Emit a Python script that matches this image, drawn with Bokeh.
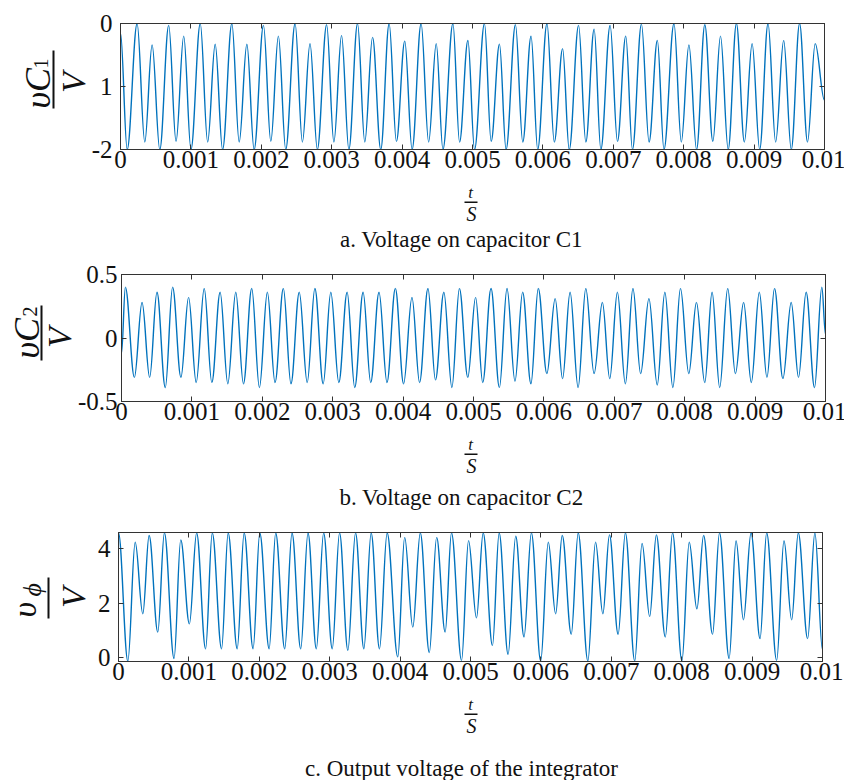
import numpy as np
from bokeh.plotting import figure
from bokeh.models import LinearAxis, FixedTicker, Range1d, ColumnDataSource, Label, BoxAnnotation
from bokeh.layouts import column, row
from bokeh.embed import file_html
from bokeh.resources import INLINE

# ---------------- data ----------------
x_ticks = [0, 0.001, 0.002, 0.003, 0.004, 0.005, 0.006, 0.007, 0.008, 0.009, 0.01]
x_tick_labels = ["0", "0.001", "0.002", "0.003", "0.004", "0.005", "0.006", "0.007", "0.008", "0.009", "0.01"]

# a. voltage on C1 : extrema, times in ms
a_start = [0.0, -0.15]
a_end = [10.0, -1.22]
a_peak_t = [0.236, 0.449, 0.685, 0.898, 1.133, 1.345, 1.582, 1.795, 2.031, 2.243, 2.48, 2.692, 2.928, 3.14,
            3.367, 3.58, 3.816, 4.038, 4.27, 4.485, 4.722, 4.935, 5.17, 5.383, 5.61, 5.832, 6.058, 6.28,
            6.507, 6.728, 6.955, 7.177, 7.4, 7.626, 7.862, 8.074, 8.3, 8.523, 8.749, 8.972, 9.198, 9.42,
            9.646, 9.868]
a_peak_v = [0.0, -0.34, -0.03, -0.2, 0.0, -0.33, 0.0, -0.33, -0.03, -0.2, 0.0, -0.32, -0.02, -0.19,
            0.0, -0.22, 0.0, -0.28, 0.0, -0.32, 0.0, -0.27, 0.0, -0.33, -0.02, -0.2, 0.0, -0.4,
            -0.03, -0.09, -0.03, -0.2, -0.01, -0.27, 0.0, -0.34, -0.02, -0.2, 0.0, -0.32, 0.0, -0.27,
            0.0, -0.32]
a_trough_t = [0.095, 0.345, 0.558, 0.789, 1.001, 1.238, 1.45, 1.686, 1.898, 2.135, 2.347, 2.584, 2.796,
              3.031, 3.244, 3.47, 3.697, 3.919, 4.142, 4.377, 4.58, 4.816, 5.029, 5.265, 5.477, 5.714,
              5.926, 6.162, 6.374, 6.61, 6.823, 7.059, 7.272, 7.508, 7.72, 7.966, 8.183, 8.414, 8.632,
              8.862, 9.079, 9.306, 9.528, 9.759]
a_trough_v = [-2.0, -1.88, -2.0, -1.87, -2.0, -1.88, -2.0, -1.88, -2.0, -1.87, -2.0, -1.88, -2.0,
              -1.88, -2.0, -1.88, -2.0, -1.87, -2.0, -1.88, -2.0, -1.88, -2.0, -1.87, -2.0, -1.88,
              -2.0, -1.88, -2.0, -1.88, -2.0, -1.87, -2.0, -1.88, -2.0, -1.88, -2.0, -1.87, -2.0,
              -1.88, -2.0, -1.88, -2.0, -1.88]

# b. voltage on C2
b_start = [0.0, -0.12]
b_end = [10.0, 0.03]
b_peak_t = [0.055, 0.292, 0.504, 0.726, 0.953, 1.175, 1.401, 1.623, 1.85, 2.072, 2.299, 2.525, 2.747,
            2.973, 3.205, 3.432, 3.658, 3.89, 4.126, 4.353, 4.579, 4.80, 5.03, 5.249, 5.476, 5.698,
            5.92, 6.16, 6.372, 6.595, 6.831, 7.044, 7.265, 7.492, 7.718, 7.94, 8.167, 8.389, 8.611,
            8.837, 9.06, 9.276, 9.513, 9.725, 9.948]
b_peak_v = [0.40, 0.28, 0.36, 0.40, 0.32, 0.39, 0.36, 0.36, 0.39, 0.36,
            0.39, 0.36, 0.39, 0.36, 0.36, 0.36, 0.36, 0.39, 0.32, 0.39,
            0.36, 0.39, 0.32, 0.39, 0.39, 0.36, 0.39, 0.31, 0.36, 0.39,
            0.28, 0.36, 0.39, 0.31, 0.36, 0.39, 0.28, 0.36, 0.39, 0.28,
            0.36, 0.39, 0.28, 0.36, 0.40]
b_trough_t = [0.183, 0.4, 0.622, 0.844, 1.061, 1.283, 1.51, 1.732, 1.959, 2.181, 2.407, 2.638, 2.865,
              3.087, 3.313, 3.54, 3.771, 4.007, 4.234, 4.46, 4.693, 4.919, 5.131, 5.368, 5.589, 5.816,
              6.042, 6.265, 6.486, 6.713, 6.935, 7.157, 7.374, 7.61, 7.832, 8.058, 8.285, 8.497, 8.72,
              8.946, 9.168, 9.395, 9.617, 9.844]
b_trough_v = [-0.31, -0.31, -0.39, -0.31, -0.35, -0.35, -0.36, -0.36, -0.39, -0.35,
              -0.36, -0.35, -0.36, -0.35, -0.39, -0.35, -0.35, -0.36, -0.35, -0.33,
              -0.39, -0.31, -0.35, -0.39, -0.34, -0.36, -0.28, -0.32, -0.39, -0.28,
              -0.32, -0.36, -0.28, -0.37, -0.39, -0.28, -0.35, -0.39, -0.28, -0.35,
              -0.31, -0.32, -0.31, -0.39]

# c. output voltage of the integrator
c_start = [0.0, 4.58]
c_end = [10.0, 0.3]
c_peak_t = [0.237, 0.435, 0.652, 0.884, 1.11, 1.332, 1.558, 1.785, 2.007, 2.233, 2.465, 2.692, 2.914,
            3.14, 3.367, 3.589, 3.816, 4.065, 4.287, 4.519, 4.73, 4.972, 5.18, 5.407, 5.642, 5.865,
            6.105, 6.303, 6.53, 6.776, 6.974, 7.2, 7.437, 7.64, 7.87, 8.107, 8.311, 8.537, 8.772,
            8.985, 9.207, 9.453, 9.656, 9.892]
c_peak_v = [4.24, 4.49, 4.58, 4.33, 4.58,
            4.58, 4.58, 4.58, 4.58, 4.58, 4.58, 4.58, 4.58, 4.58, 4.58, 4.58, 4.58,
            4.42, 4.58, 4.42, 4.58, 4.3, 4.58, 4.58, 4.46, 4.58, 4.24, 4.49, 4.58, 4.24,
            4.51, 4.58, 4.2, 4.51, 4.58, 4.24, 4.49, 4.58, 4.3, 4.58, 4.58, 4.3, 4.58, 4.58]
c_trough_t = [0.133, 0.345, 0.558, 0.789, 1.007, 1.237, 1.464, 1.686, 1.912, 2.14, 2.361, 2.588, 2.81,
              3.036, 3.258, 3.485, 3.707, 3.967, 4.18, 4.415, 4.64, 4.873, 5.085, 5.312, 5.534, 5.76,
              5.997, 6.209, 6.431, 6.667, 6.88, 7.097, 7.333, 7.545, 7.767, 8.003, 8.216, 8.438,
              8.674, 8.877, 9.113, 9.349, 9.562, 9.789]
c_trough_v = [-0.12, 1.62, 0.95, -0.02, 1.25,
              0.34, 0.34, 0.34, 0.34, 0.34, 0.34, 0.34, 0.34, 0.34,
              0.28, 0.34, 0.34, 0.04, 1.13, 0.2, 0.95, -0.09, 1.47, 0.46, 0.13, 0.77,
              -0.11, 1.62, 0.87, -0.11, 1.62, 0.87, -0.11, 1.52, 0.77, -0.11, 1.8, 0.87,
              -0.02, 1.4, 0.71, -0.09, 1.4, 0.71]

a_yticks, a_ylabels = [-2, -1, 0], ["-2", "1", "0"]
b_yticks, b_ylabels = [-0.5, 0, 0.5], ["-0.5", "0", "0.5"]
c_yticks, c_ylabels = [0, 2, 4], ["0", "2", "4"]

captions = ["a. Voltage on capacitor C1", "b. Voltage on capacitor C2", "c. Output voltage of the integrator"]

# ---------------- styling / layout ----------------
LINE = "#0072BD"
AX = "#333333"
TXT = "#111111"
SERIF = "Liberation Serif"
FRAME_X = 118       # left edge of every plot frame
FRAME_W = 704
TOTAL_W = 843
AX_H = 32           # space below the frame for the x tick labels
PI2 = np.pi / 2
DESC = 0.22         # baseline correction, fraction of the font size


def extrema_source(start, pt, pv, tt, tv, end):
    t = np.concatenate([[start[0]], pt, tt, [end[0]]]) / 1000.0
    v = np.concatenate([[start[1]], pv, tv, [end[1]]])
    o = np.argsort(t)
    t, v = t[o], v[o]
    x0, x1, y0, y1 = t[:-1], t[1:], v[:-1], v[1:]
    d = (x1 - x0) * 0.364
    return ColumnDataSource(dict(x0=x0, y0=y0, x1=x1, y1=y1,
                                 cx0=x0 + d, cy0=y0, cx1=x1 - d, cy1=y1))


class Strip:
    """A blank figure in pixel coordinates, y measured downward from the panel top."""

    def __init__(self, w, h, frame_top, frame_h):
        self.top, self.fh = frame_top, frame_h
        p = figure(width=w, height=h, x_range=Range1d(0, w), y_range=Range1d(0, frame_h),
                   min_border=0, x_axis_type=None, y_axis_type=None, title=None,
                   output_backend="svg", toolbar_location=None, tools="")
        p.outline_line_color = None
        p.grid.visible = False
        p.background_fill_color = "white"
        p.border_fill_color = "white"
        self.p = p

    def y(self, y_down):
        return self.top + self.fh - y_down

    def text(self, x, y, s, size, style="normal", rotated=False, align="center"):
        # (x, y) is where the glyph baseline should sit
        if rotated:
            x, angle = x - DESC * size, PI2
        else:
            y, angle = y - DESC * size, 0.0
        self.p.add_layout(Label(x=x, y=self.y(y), text=s, angle=angle, text_font=SERIF,
                                text_font_size=f"{size}px", text_font_style=style,
                                text_align=align, text_baseline="alphabetic", text_color=TXT))

    def bar(self, l, r, t, b):
        self.p.add_layout(BoxAnnotation(left=l, right=r, top=self.y(t), bottom=self.y(b),
                                        fill_color=TXT, fill_alpha=1.0, line_color=None))


def make_main(frame_h, top, left, yr, yticks, ylabels, ystandoff, src):
    p = figure(frame_width=FRAME_W, frame_height=frame_h, min_border_left=left,
               min_border_right=TOTAL_W - FRAME_X - FRAME_W, min_border_top=top,
               min_border_bottom=AX_H, x_range=Range1d(0, 0.01), y_range=Range1d(*yr),
               title=None, output_backend="svg", toolbar_location=None, tools="")
    p.grid.visible = False
    p.outline_line_color = AX
    p.background_fill_color = "white"
    p.border_fill_color = "white"
    p.bezier(x0="x0", y0="y0", x1="x1", y1="y1", cx0="cx0", cy0="cy0", cx1="cx1", cy1="cy1",
             source=src, line_color=LINE, line_width=1.4)
    xa = p.xaxis[0]
    xa.ticker = FixedTicker(ticks=x_ticks)
    xa.major_label_overrides = dict(zip(x_ticks, x_tick_labels))
    xa.major_label_standoff = 1
    ya = p.yaxis[0]
    ya.ticker = FixedTicker(ticks=yticks)
    ya.major_label_overrides = dict(zip(yticks, ylabels))
    ya.major_label_standoff = ystandoff
    for ax in (xa, ya):
        ax.major_label_text_font = SERIF
        ax.major_label_text_font_size = "25px"
        ax.major_label_text_color = TXT
        ax.major_tick_in = 5
        ax.major_tick_out = 0
        ax.minor_tick_in = 0
        ax.minor_tick_out = 0
        ax.axis_line_color = AX
        ax.major_tick_line_color = AX
    for loc, tk in (("above", x_ticks), ("right", yticks)):
        ax = LinearAxis(ticker=FixedTicker(ticks=tk), major_tick_in=5, major_tick_out=0,
                        minor_tick_in=0, minor_tick_out=0, major_label_standoff=0,
                        major_label_text_font_size="0px", major_label_text_color=None,
                        axis_line_color=AX, major_tick_line_color=AX)
        p.add_layout(ax, loc)
    return p


def make_left(frame_h, top, left):
    # its frame is aligned with the plot frame next to it; y is measured from the panel top
    return Strip(FRAME_X - left, top + frame_h + AX_H, top, frame_h)


def make_caption(h, caption, cap_y, t_y):
    s = Strip(TOTAL_W, h, 0, h)
    s.text(470, t_y, "t", 17, "italic")
    s.bar(464, 477, t_y + 5, t_y + 6.5)
    s.text(471, t_y + 22, "S", 20, "italic")
    s.text(461, cap_y, caption, 23)
    return s.p


# ----- panel a (page y 0..258) -----
ma = make_main(126, 23, 30, (-2.0, 0.0), a_yticks, a_ylabels, 8,
               extrema_source(a_start, a_peak_t, a_peak_v, a_trough_t, a_trough_v, a_end))
la = make_left(126, 23, 30)
la.text(45, 108, "υC", 36, "italic", True, "left")
la.text(45, 68, "1", 20, "normal", True, "left")
la.bar(52, 54, 50, 108)
la.text(80, 82, "V", 34, "italic", True, "center")
ca = make_caption(258 - (23 + 126 + AX_H), captions[0], 63, 15)

# ----- panel b (page y 258..516) -----
mb = make_main(127, 16, 44, (-0.5, 0.5), b_yticks, b_ylabels, 4,
               extrema_source(b_start, b_peak_t, b_peak_v, b_trough_t, b_trough_v, b_end))
lb = make_left(127, 16, 44)
lb.text(34, 100, "υC", 36, "italic", True, "left")
lb.text(34, 58, "2", 20, "normal", True, "left")
lb.bar(40, 42, 47, 102)
lb.text(66, 79, "V", 34, "italic", True, "center")
cb = make_caption(516 - 258 - (16 + 127 + AX_H), captions[1], 69, 15)

# ----- panel c (page y 516..780) -----
mc = make_main(129, 16, 30, (-0.13, 4.6), c_yticks, c_ylabels, 8,
               extrema_source(c_start, c_peak_t, c_peak_v, c_trough_t, c_trough_v, c_end))
lc = make_left(129, 16, 30)
lc.text(31, 101, "υ", 34, "italic", True, "left")
lc.text(38, 80, "ϕ", 26, "italic", True, "left")
lc.bar(47, 49, 61, 102)
lc.text(80, 81, "V", 34, "italic", True, "center")
cc = make_caption(780 - 516 - (16 + 129 + AX_H), captions[2], 80, 15)

layout = column(row(la.p, ma, spacing=0), ca, row(lb.p, mb, spacing=0), cb,
                row(lc.p, mc, spacing=0), cc, spacing=0)
open("out.html", "w").write(file_html(layout, INLINE))
